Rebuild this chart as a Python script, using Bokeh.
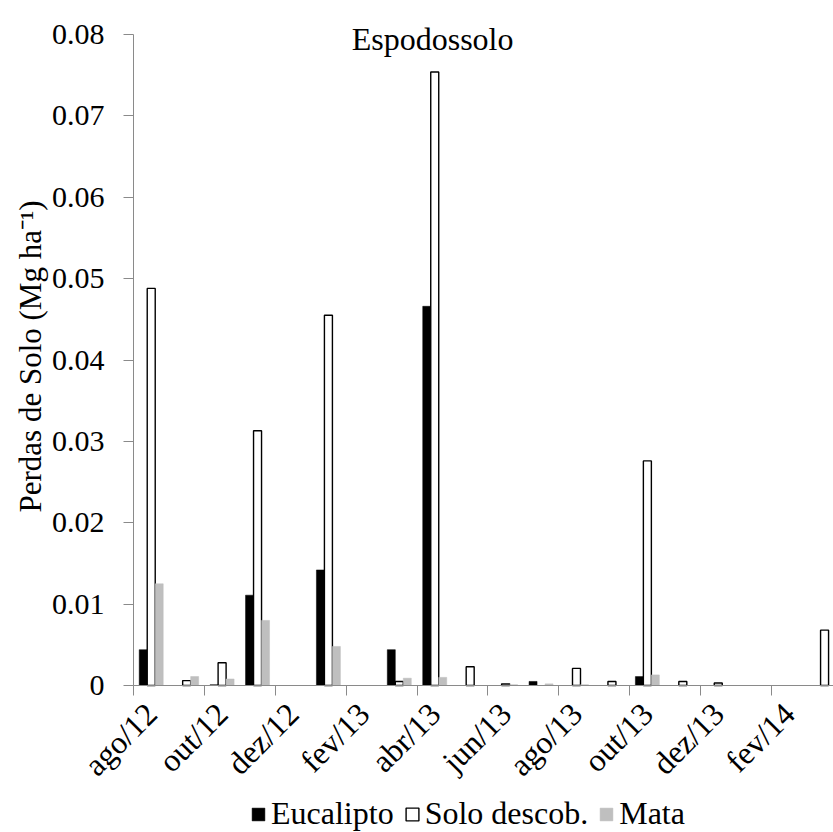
import math
from bokeh.plotting import figure
from bokeh.models import (ColumnDataSource, Range1d, FixedTicker, Label, Legend, LegendItem)
from bokeh.transform import dodge
from bokeh.embed import file_html
from bokeh.resources import INLINE

nan = float("nan")

months = ["ago/12", "set/12", "out/12", "nov/12", "dez/12", "jan/13", "fev/13", "mar/13",
          "abr/13", "mai/13", "jun/13", "jul/13", "ago/13", "set/13", "out/13", "nov/13",
          "dez/13", "jan/14", "fev/14", "mar/14"]

eucalipto = [0.0044, None, 0.0001, 0.0111, None, 0.0142, None, 0.0044,
             0.0466, None, None, 0.0005, None, None, 0.0011, None,
             None, None, None, None]

solo_descob = [0.0488, 0.0006, 0.0028, 0.0313, None, 0.0455, None, 0.0005,
               0.0754, 0.0023, 0.0002, None, 0.0021, 0.0005, 0.0276, 0.0005,
               0.0003, None, None, 0.0068]

mata = [0.0125, 0.0011, 0.0008, 0.0080, None, 0.0048, None, 0.0009,
        0.0010, None, 0.0001, 0.0002, 0.0001, None, 0.0013, None,
        None, None, None, None]

tick_labels = ["ago/12", "out/12", "dez/12", "fev/13", "abr/13",
               "jun/13", "ago/13", "out/13", "dez/13", "fev/14"]

y_ticks = [0, 0.01, 0.02, 0.03, 0.04, 0.05, 0.06, 0.07, 0.08]
y_tick_labels = ["0", "0.01", "0.02", "0.03", "0.04", "0.05", "0.06", "0.07", "0.08"]

title_text = "Espodossolo"
y_label = "Perdas de Solo (Mg ha\u207b\u00b9)"
series_names = ["Eucalipto", "Solo descob.", "Mata"]


def clean(v):
    return [nan if x is None else x for x in v]


src = ColumnDataSource(dict(
    x=[i + 0.5 for i in range(len(months))],
    month=months,
    euc=clean(eucalipto),
    solo=clean(solo_descob),
    mata=clean(mata),
))

FONT = "Liberation Serif"
AX = "#8a8a8a"

N_MONTHS_VISIBLE = 19.752
Y_MAX = 0.08

# the frame covers the whole canvas; the axes sit at x = 0 and y = 0
p = figure(width=833, height=832, output_backend="svg", toolbar_location=None,
           x_range=Range1d(-3.753, N_MONTHS_VISIBLE), y_range=Range1d(-0.018065, 0.08418),
           min_border_left=0, min_border_right=0, min_border_top=0,
           min_border_bottom=0)
p.outline_line_color = None
p.grid.visible = False
p.background_fill_color = "white"

bw = 0.2257
r1 = p.vbar(x=dodge("x", -bw, range=p.x_range), top="euc", width=bw, source=src,
            fill_color="black", line_color="black", line_width=0.5)
r2 = p.vbar(x="x", top="solo", width=bw, source=src,
            fill_color="white", line_color="black", line_width=1.4)
r3 = p.vbar(x=dodge("x", bw, range=p.x_range), top="mata", width=bw, source=src,
            fill_color="#bfbfbf", line_color="#bfbfbf", line_width=0.5)

# x axis (fixed at y = 0)
xa = p.xaxis[0]
xa.fixed_location = 0
xa.bounds = (0, N_MONTHS_VISIBLE)
major = [i + 0.5 for i in range(0, 20, 2)]
xa.ticker = FixedTicker(ticks=major, minor_ticks=[float(i) for i in range(0, 20, 2)])
xa.major_label_overrides = {m: t for m, t in zip(major, tick_labels)}
xa.major_label_orientation = math.pi / 4
xa.major_tick_line_color = None
xa.major_tick_out = 0
xa.major_tick_in = 0
xa.minor_tick_line_color = AX
xa.minor_tick_out = 10
xa.minor_tick_in = 0
xa.axis_line_color = AX
xa.major_label_text_font = FONT
xa.major_label_text_font_size = "32px"
xa.major_label_text_color = "black"
xa.major_label_standoff = 13

# y axis (fixed at x = 0)
ya = p.yaxis[0]
ya.fixed_location = 0
ya.ticker = FixedTicker(ticks=y_ticks, minor_ticks=[])
ya.bounds = (0, Y_MAX)
ya.major_label_overrides = {t: l for t, l in zip(y_ticks, y_tick_labels)}
ya.axis_line_color = AX
ya.major_tick_line_color = AX
ya.major_tick_out = 10
ya.major_tick_in = 0
ya.minor_tick_line_color = None
ya.major_label_text_font = FONT
ya.major_label_text_font_size = "30px"
ya.major_label_text_color = "black"
ya.major_label_standoff = 19

# y axis title
p.add_layout(Label(x=30, y=476, x_units="screen", y_units="screen", text=y_label,
                   angle=math.pi / 2, text_font=FONT, text_font_size="31px",
                   text_align="center", text_baseline="middle", text_color="black"))

# chart title
p.add_layout(Label(x=8.44, y=0.0795, text=title_text, text_font=FONT,
                   text_font_size="32px", text_align="center",
                   text_baseline="alphabetic", text_color="black"))

legend = Legend(items=[LegendItem(label=series_names[0], renderers=[r1]),
                       LegendItem(label=series_names[1], renderers=[r2]),
                       LegendItem(label=series_names[2], renderers=[r3])],
                orientation="horizontal", location=(250, 0),
                label_text_font=FONT, label_text_font_size="32px",
                label_text_color="black",
                glyph_width=16, glyph_height=16, label_standoff=5, spacing=10,
                padding=0, margin=0, border_line_color=None,
                background_fill_alpha=0)
p.add_layout(legend)

open("out.html", "w").write(file_html(p, INLINE))
